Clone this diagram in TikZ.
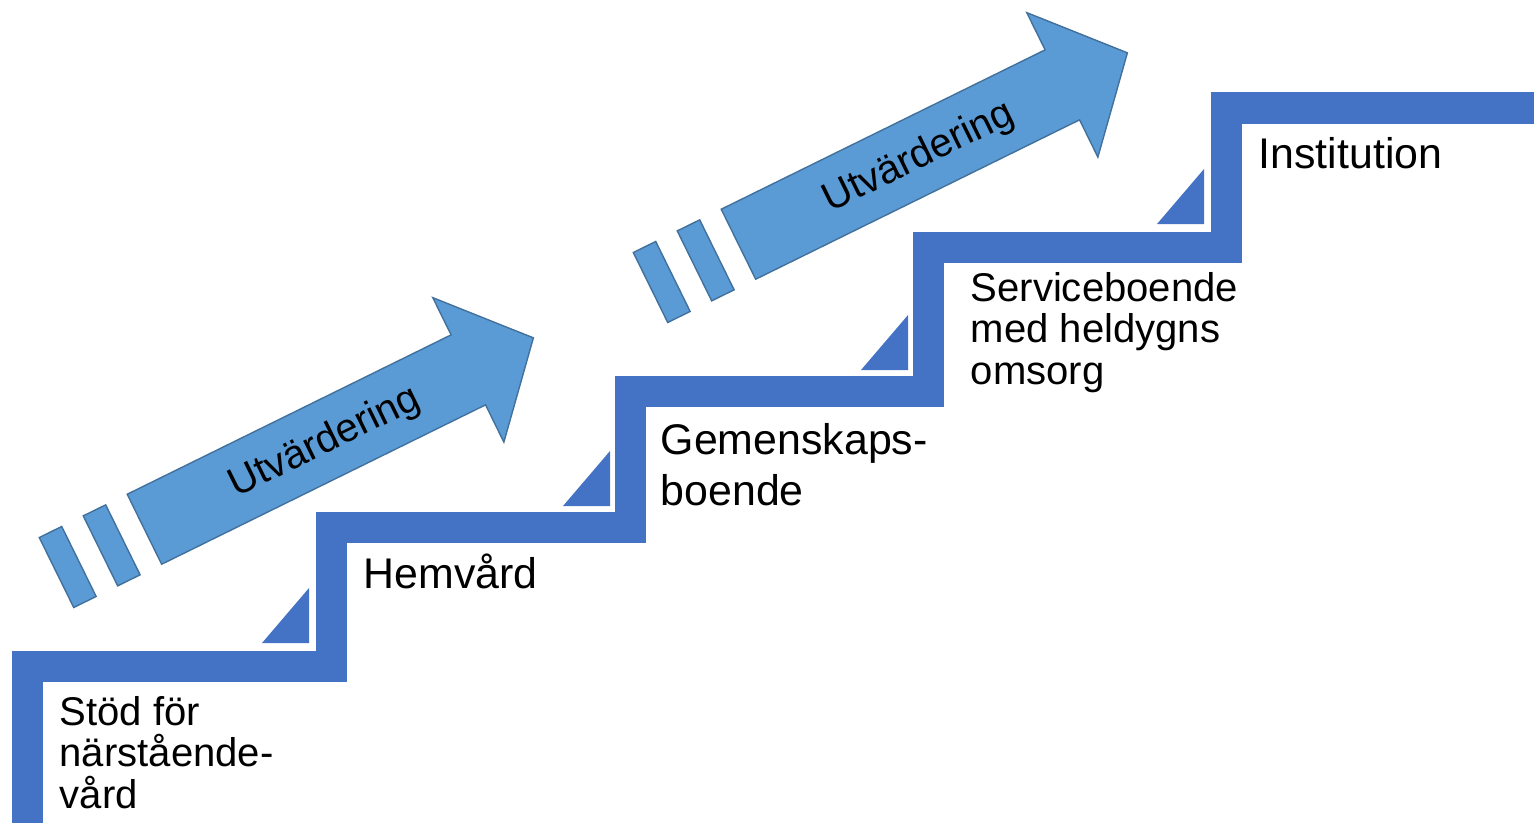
\documentclass[tikz,border=0pt]{standalone}
\usepackage{fontspec}
\setmainfont{Liberation Sans}
\usetikzlibrary{arrows}
\definecolor{stairblue}{HTML}{4472C4}
\definecolor{arrowblue}{HTML}{5B9BD5}
\definecolor{arrowedge}{HTML}{41719C}
\tikzset{
  lbl/.style={anchor=base west, inner sep=0pt, align=left},
  lblbig/.style={lbl, font=\fontsize{12.2}{14.5}\selectfont},
  lblsmall/.style={lbl, font=\fontsize{11.4}{11.7}\selectfont},
  evalarrow/.style={fill=arrowblue, draw=arrowedge, line width=0.4pt}
}

\begin{document}
\begin{tikzpicture}
            \useasboundingbox (0,0) rectangle (15.34,8.22);

            % corners of the stair
            \coordinate (S0) at (0.275,-0.3);
            \coordinate (S1) at (0.275,1.56);
            \coordinate (S2) at (3.31,1.56);
            \coordinate (S3) at (3.31,2.945);
            \coordinate (S4) at (6.30,2.945);
            \coordinate (S5) at (6.30,4.31);
            \coordinate (S6) at (9.28,4.31);
            \coordinate (S7) at (9.28,5.75);
            \coordinate (S8) at (12.265,5.75);
            \coordinate (S9) at (12.265,7.14);
            \coordinate (S10) at (15.6,7.14);

            \draw[line width=3.1mm, stairblue, line join=miter]
               (S0) -- (S1) -- (S2) -- (S3) -- (S4) -- (S5)
               -- (S6) -- (S7) -- (S8) -- (S9) -- (S10);

            \foreach \x/\y in {3.09/1.79, 6.10/3.16, 9.08/4.52, 12.04/5.98}
               \fill[stairblue] (\x,\y) -- ++(-0.47,0) -- ++(0.47,0.55) -- cycle;

            % evaluation arrows
            \foreach \ox/\oy [count=\i] in {0.565/2.495, 6.505/5.345} {
               \begin{scope}[shift={(\ox,\oy)}, rotate=26.2]
                  \draw[evalarrow] (0,-0.39) rectangle (0.25,0.39);
                  \draw[evalarrow] (0.49,-0.39) rectangle (0.74,0.39);
                  \draw[evalarrow] (0.98,-0.39) -- (4.59,-0.39) -- (4.59,-0.805)
                     -- (5.315,0) -- (4.59,0.805) -- (4.59,0.39) -- (0.98,0.39) -- cycle;
                  \node[transform shape, font=\fontsize{11.4}{14}\selectfont] (eval\i) at (2.98,-0.02) {Utvärdering};
               \end{scope}
            }

            % labels (anchored at the baseline of their last line)
            \node[lblsmall] (stod) at (0.59,0.14) {Stöd för\\närstående-\\vård};
            \node[lblbig] (hemvard) at (3.63,2.34) {Hemvård};
            \node[lblbig] (gemenskap) at (6.60,3.17) {Gemenskaps-\\boende};
            \node[lblsmall] (service) at (9.70,4.38) {Serviceboende\\med heldygns\\omsorg};
            \node[lblbig] (institution) at (12.58,6.54) {Institution};
        \end{tikzpicture}
\end{document}
